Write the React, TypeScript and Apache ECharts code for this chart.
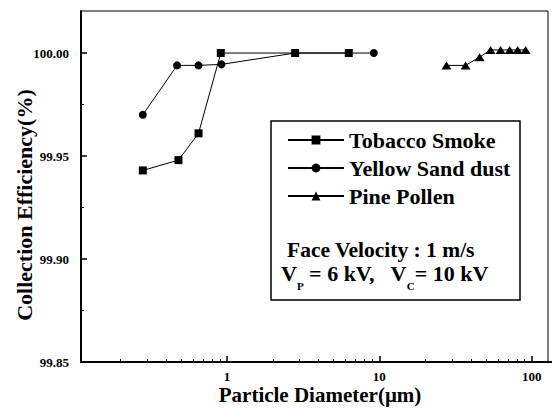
import React, { useEffect, useRef } from "react";
import * as echarts from "echarts";

// Particle diameter (µm) and collection efficiency (%)
const tobaccoX = [0.28, 0.48, 0.65, 0.91, 2.8, 6.3];
const tobaccoY = [99.943, 99.948, 99.961, 100.0, 100.0, 100.0];

const sandX = [0.28, 0.47, 0.65, 0.92, 2.8, 9.2];
const sandY = [99.97, 99.994, 99.994, 99.9945, 100.0, 100.0];

const pollenX = [27.6, 36.8, 45.5, 53.7, 62.5, 71.7, 80.9, 91.3];
const pollenY = [99.994, 99.994, 99.998, 100.0015, 100.0015, 100.0015, 100.0015, 100.0015];

const seriesNames = ["Tobacco Smoke", "Yellow Sand dust", "Pine Pollen"];

const xTickLabels = [1, 10, 100];
const xMinorTicks = [
  0.2, 0.3, 0.4, 0.5, 0.6, 0.7, 0.8, 0.9,
  2, 3, 4, 5, 6, 7, 8, 9,
  20, 30, 40, 50, 60, 70, 80, 90,
];
const yTickLabels = [99.85, 99.9, 99.95, 100.0];
const yMinorTicks = [99.875, 99.925, 99.975];

const X_MIN = 0.11;
const X_MAX = 128;
const Y_MIN = 99.85;
const Y_MAX = 100.0204;

const FONT = "Liberation Serif";

const zip = (xs: number[], ys: number[]) => xs.map((x, i) => [x, ys[i]]);

export default function App() {
  const ref = useRef<HTMLDivElement>(null);

  useEffect(() => {
    if (!ref.current) return;
    const chart = echarts.init(ref.current, null, { renderer: "svg" });

    const lineCommon = {
      type: "line" as const,
      xAxisIndex: 0,
      yAxisIndex: 0,
      lineStyle: { color: "#000", width: 1 },
      itemStyle: { color: "#000" },
      emphasis: { disabled: true },
    };

    const option: any = {
      animation: false,
      backgroundColor: "#fff",
      textStyle: { fontFamily: FONT },
      grid: {
        left: 81,
        top: 11,
        right: 4,
        bottom: 48,
        show: true,
        borderColor: "#000",
        borderWidth: 1,
        backgroundColor: "transparent",
      },
      xAxis: [
        {
          type: "log",
          logBase: 10,
          min: X_MIN,
          max: X_MAX,
          position: "bottom",
          axisLine: { show: true, lineStyle: { color: "#000", width: 2 } },
          axisTick: {
            show: true,
            inside: true,
            length: 6,
            customValues: xTickLabels,
            lineStyle: { color: "#000", width: 1.5 },
          },
          axisLabel: {
            customValues: xTickLabels,
            margin: 8,
            color: "#000",
            fontFamily: FONT,
            fontWeight: "bold",
            fontSize: 13,
            formatter: (v: number) => String(Math.round(v)),
          },
          splitLine: { show: false },
          minorTick: { show: false },
        },
        {
          type: "log",
          logBase: 10,
          min: X_MIN,
          max: X_MAX,
          position: "bottom",
          axisLine: { show: false },
          axisTick: {
            show: true,
            inside: true,
            length: 3,
            customValues: xMinorTicks,
            lineStyle: { color: "#000", width: 1 },
          },
          axisLabel: { show: false },
          splitLine: { show: false },
        },
      ],
      yAxis: [
        {
          type: "value",
          min: Y_MIN,
          max: Y_MAX,
          position: "left",
          axisLine: { show: true, lineStyle: { color: "#000", width: 2 } },
          axisTick: {
            show: true,
            inside: true,
            length: 6,
            customValues: yTickLabels,
            lineStyle: { color: "#000", width: 1.5 },
          },
          axisLabel: {
            customValues: yTickLabels,
            margin: 12,
            color: "#000",
            fontFamily: FONT,
            fontWeight: "bold",
            fontSize: 13,
            formatter: (v: number) => v.toFixed(2),
          },
          splitLine: { show: false },
        },
        {
          type: "value",
          min: Y_MIN,
          max: Y_MAX,
          position: "left",
          axisLine: { show: false },
          axisTick: {
            show: true,
            inside: true,
            length: 3,
            customValues: yMinorTicks,
            lineStyle: { color: "#000", width: 1 },
          },
          axisLabel: { show: false },
          splitLine: { show: false },
        },
      ],
      legend: {
        show: true,
        orient: "vertical",
        left: 287,
        top: 129,
        padding: 0,
        itemWidth: 56,
        itemHeight: 11,
        itemGap: 6,
        selectedMode: false,
        data: seriesNames,
        textStyle: {
          color: "#000",
          fontFamily: FONT,
          fontWeight: "bold",
          fontSize: 22,
          lineHeight: 22,
        },
        z: 10,
      },
      graphic: [
        {
          type: "rect",
          z: 5,
          shape: { x: 271, y: 121, width: 249, height: 179 },
          style: { fill: "#fff", stroke: "#000", lineWidth: 1.5 },
        },
        {
          type: "text",
          z: 11,
          x: 287,
          y: 250,
          style: {
            text: "Face Velocity : 1 m/s",
            fill: "#000",
            fontFamily: FONT,
            fontWeight: "bold",
            fontSize: 21.5,
            align: "left",
            verticalAlign: "middle",
          },
        },
        {
          type: "text",
          z: 11,
          x: 281,
          y: 273,
          style: {
            text: "{b|V}{s|P}{b| = 6 kV,   V}{s|C}{b|= 10 kV}",
            fill: "#000",
            fontFamily: FONT,
            fontWeight: "bold",
            align: "left",
            verticalAlign: "middle",
            rich: {
              b: {
                fontFamily: FONT,
                fontWeight: "bold",
                fontSize: 22,
                lineHeight: 36,
                fill: "#000",
              },
              s: {
                fontFamily: FONT,
                fontWeight: "bold",
                fontSize: 11,
                verticalAlign: "bottom",
                fill: "#000",
              },
            },
          },
        },
        {
          type: "text",
          x: 320,
          y: 395,
          style: {
            text: "Particle Diameter(μm)",
            fill: "#000",
            fontFamily: FONT,
            fontWeight: "bold",
            fontSize: 21,
            align: "center",
            verticalAlign: "middle",
          },
        },
        {
          type: "text",
          x: 24,
          y: 205,
          rotation: Math.PI / 2,
          style: {
            text: "Collection Efficiency(%)",
            fill: "#000",
            fontFamily: FONT,
            fontWeight: "bold",
            fontSize: 22,
            align: "center",
            verticalAlign: "middle",
          },
        },
        {
          type: "line",
          shape: { x1: 547, y1: 362, x2: 552, y2: 362 },
          style: { stroke: "#000", lineWidth: 2 },
        },
      ],
      series: [
        {
          ...lineCommon,
          name: seriesNames[0],
          symbol: "rect",
          symbolSize: 8,
          data: zip(tobaccoX, tobaccoY),
        },
        {
          ...lineCommon,
          name: seriesNames[1],
          symbol: "circle",
          symbolSize: 8,
          data: zip(sandX, sandY),
        },
        {
          ...lineCommon,
          name: seriesNames[2],
          symbol: "triangle",
          symbolSize: [10, 8],
          data: zip(pollenX, pollenY),
        },
      ],
    };

    chart.setOption(option);
    return () => chart.dispose();
  }, []);

  return (
    <div
      ref={ref}
      style={{ position: "fixed", left: 0, top: 0, width: 552, height: 410 }}
    />
  );
}
